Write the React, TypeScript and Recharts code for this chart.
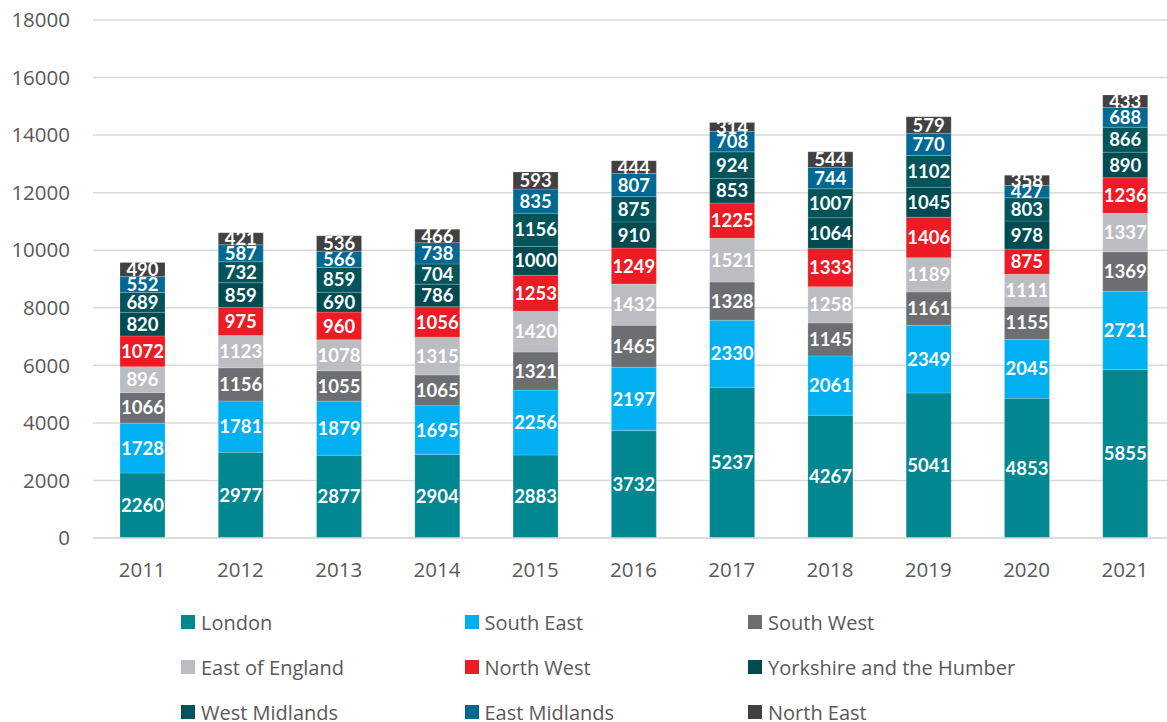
import React from "react"
import { BarChart, Bar, XAxis, YAxis, CartesianGrid, LabelList } from "recharts"

const years = ["2011", "2012", "2013", "2014", "2015", "2016", "2017", "2018", "2019", "2020", "2021"]

const london = [2260, 2977, 2877, 2904, 2883, 3732, 5237, 4267, 5041, 4853, 5855]
const southEast = [1728, 1781, 1879, 1695, 2256, 2197, 2330, 2061, 2349, 2045, 2721]
const southWest = [1066, 1156, 1055, 1065, 1321, 1465, 1328, 1145, 1161, 1155, 1369]
const eastOfEngland = [896, 1123, 1078, 1315, 1420, 1432, 1521, 1258, 1189, 1111, 1337]
const northWest = [1072, 975, 960, 1056, 1253, 1249, 1225, 1333, 1406, 875, 1236]
const yorkshire = [820, 859, 690, 786, 1000, 910, 853, 1064, 1045, 978, 890]
const westMidlands = [689, 732, 859, 704, 1156, 875, 924, 1007, 1102, 803, 866]
const eastMidlands = [552, 587, 566, 738, 835, 807, 708, 744, 770, 427, 688]
const northEast = [490, 421, 536, 466, 593, 444, 314, 544, 579, 358, 433]

const yTicks = [0, 2000, 4000, 6000, 8000, 10000, 12000, 14000, 16000, 18000]

const series = [
  { key: "london", name: "London", color: "#00878F", values: london },
  { key: "southEast", name: "South East", color: "#00B0F0", values: southEast },
  { key: "southWest", name: "South West", color: "#6D6E71", values: southWest },
  { key: "eastOfEngland", name: "East of England", color: "#BCBDC0", values: eastOfEngland },
  { key: "northWest", name: "North West", color: "#ED1C24", values: northWest },
  { key: "yorkshire", name: "Yorkshire and the Humber", color: "#004B52", values: yorkshire },
  { key: "westMidlands", name: "West Midlands", color: "#00545A", values: westMidlands },
  { key: "eastMidlands", name: "East Midlands", color: "#006993", values: eastMidlands },
  { key: "northEast", name: "North East", color: "#414042", values: northEast },
]

const data = years.map((year, i) => {
  const row: Record<string, string | number> = { year }
  series.forEach((s) => {
    row[s.key] = s.values[i]
  })
  return row
})

const textColor = "#595959"
const gridColor = "#D9D9D9"
const font = "'Open Sans', sans-serif"

export default function App() {
  return (
    <div
      style={{
        position: "absolute",
        left: 0,
        top: 0,
        width: 1167,
        height: 722,
        overflow: "hidden",
        background: "#fff",
        fontFamily: font,
      }}
    >
      <BarChart
        width={1174}
        height={600}
        data={data}
        margin={{ top: 20, right: 0, bottom: 0, left: 0 }}
      >
        <CartesianGrid vertical={false} stroke={gridColor} strokeWidth={1.5} />
        <XAxis
          dataKey="year"
          tickLine={false}
          tickSize={0}
          tickMargin={24}
          height={62}
          axisLine={{ stroke: gridColor, strokeWidth: 1.5 }}
          tick={{ fill: textColor, fontSize: 20.5, fontFamily: font }}
        />
        <YAxis
          width={93}
          domain={[0, 18000]}
          ticks={yTicks}
          interval={0}
          axisLine={false}
          tickLine={false}
          tickSize={0}
          tickMargin={23}
          tick={{ fill: textColor, fontSize: 20.5, fontFamily: font }}
        />
        {series.map((s) => (
          <Bar
            key={s.key}
            dataKey={s.key}
            name={s.name}
            stackId="a"
            fill={s.color}
            barSize={45}
            stroke="#ffffff"
            strokeOpacity={0.25}
            strokeWidth={0.75}
            isAnimationActive={false}
          >
            <LabelList
              dataKey={s.key}
              position="center"
              fill="#ffffff"
              fontSize={18.5}
              fontWeight={700}
              fontFamily="Lato, sans-serif"
            />
          </Bar>
        ))}
      </BarChart>

      {/* legend, three columns */}
      {series.map((s, i) => {
        const col = i % 3
        const row = Math.floor(i / 3)
        return (
          <div
            key={s.key}
            style={{
              position: "absolute",
              left: 181 + col * 283.5,
              top: 608 + row * 45,
              height: 28,
              display: "flex",
              alignItems: "center",
              fontSize: 20,
              color: textColor,
              whiteSpace: "nowrap",
            }}
          >
            <span
              style={{
                display: "inline-block",
                width: 14,
                height: 14,
                background: s.color,
                marginRight: 6,
              }}
            />
            {s.name}
          </div>
        )
      })}
    </div>
  )
}
